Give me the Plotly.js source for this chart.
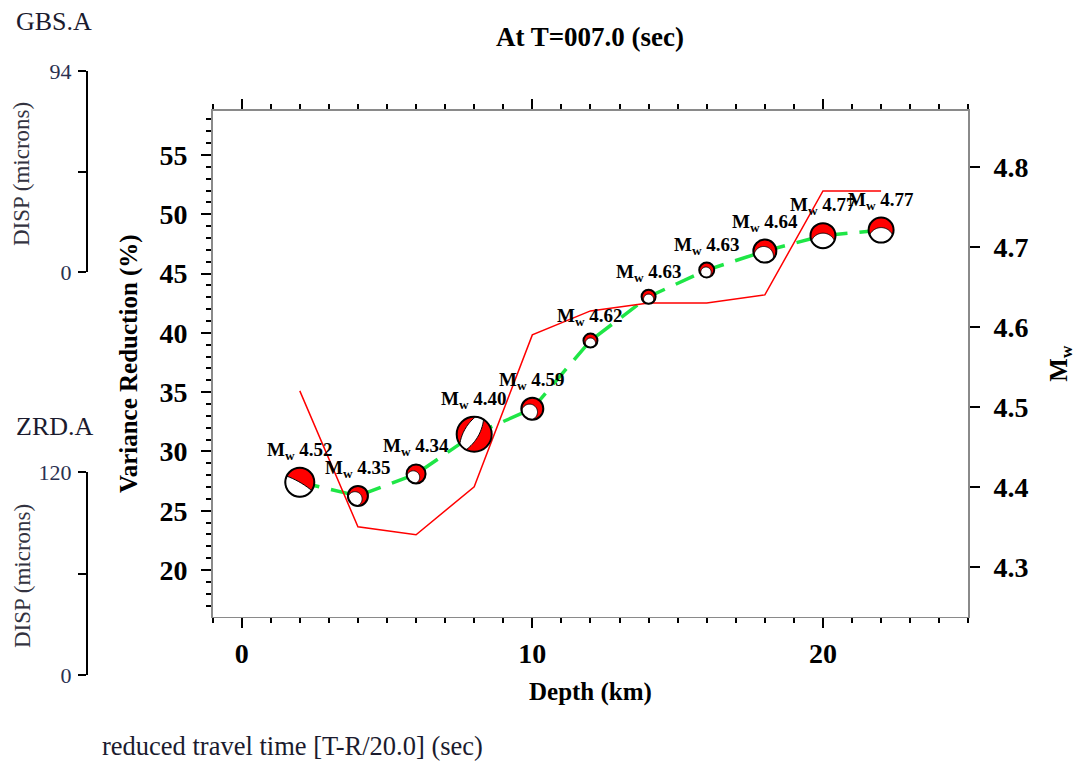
<!DOCTYPE html>
<html><head><meta charset="utf-8">
<script src="https://cdn.plot.ly/plotly-3.0.1.min.js"></script>
<style>html,body{margin:0;padding:0;background:#fff}</style>
</head><body>
<div id="chart" style="width:1076px;height:764px"></div>
<script>
// ---- data ----
const depths = [2, 4, 6, 8, 10, 12, 14, 16, 18, 20, 22];
const varianceReduction = [27.4, 26.25, 28.1, 31.45, 33.6, 39.35, 43.05, 45.3, 46.9, 48.2, 48.67];
const magnitudes = [4.52, 4.35, 4.34, 4.40, 4.59, 4.62, 4.63, 4.63, 4.64, 4.77, 4.77];
const chartTitle = 'At T=007.0 (sec)';
const xTitle = 'Depth (km)';
const yTitle = 'Variance Reduction (%)';
const y2Title = 'M<sub>w</sub>';
const stations = ['GBS.A', 'ZRD.A'];
const dispMax = [94, 120];
const dispTitle = 'DISP (microns)';
const bottomText = 'reduced travel time [T-R/20.0] (sec)';

// ---- styles (beachball look: diameter px, white region circles in units of radius) ----
const ballStyle = [
  {d: 29, white: [[-0.5 * 6, -0.866 * 6, 6]]},
  {d: 20, white: [[-0.3, -0.3, 0.72]]},
  {d: 19, white: [[-0.3, -0.35, 0.68]]},
  {d: 35, white: [[0.866 * (2.5 - 0.6), -0.5 * (2.5 - 0.6), 2.5], [-0.866 * (2.5 - 0.25), 0.5 * (2.5 - 0.25), 2.5]]},
  {d: 22, white: [[-0.25, -0.3, 0.72]]},
  {d: 14, white: [[0, -0.35, 0.72]]},
  {d: 14, white: [[0, -0.35, 0.72]]},
  {d: 15, white: [[-0.1, -0.3, 0.7]]},
  {d: 23, white: [[-0.1, -0.45, 0.85]]},
  {d: 25, white: [[0, -0.8, 1.0]]},
  {d: 25, white: [[0, -0.8, 1.0]]}
];
const SERIF = 'Liberation Serif, Times New Roman, serif';
const RED = '#ff0000';
const GREEN = '#1ee646';
const W = 1076, H = 764;

function circlePoly(cx, cy, r, n) {
  const p = [];
  for (let i = 0; i < n; i++) { const a = 2 * Math.PI * i / n; p.push([cx + r * Math.cos(a), cy + r * Math.sin(a)]); }
  return p;
}
function clip(subject, clipPoly) {
  let out = subject;
  for (let i = 0; i < clipPoly.length; i++) {
    const A = clipPoly[i], B = clipPoly[(i + 1) % clipPoly.length];
    const inp = out; out = [];
    if (!inp.length) break;
    const side = p => (B[0] - A[0]) * (p[1] - A[1]) - (B[1] - A[1]) * (p[0] - A[0]);
    for (let j = 0; j < inp.length; j++) {
      const E = inp[j], S = inp[(j + inp.length - 1) % inp.length];
      const dE = side(E), dS = side(S);
      const inter = () => { const t = dS / (dS - dE); return [S[0] + t * (E[0] - S[0]), S[1] + t * (E[1] - S[1])]; };
      if (dE >= 0) { if (dS < 0) out.push(inter()); out.push(E); }
      else if (dS >= 0) out.push(inter());
    }
  }
  return out;
}
function whiteRegion(circles, R) {
  let poly = circlePoly(0, 0, 1, 120);
  circles.forEach(c => { poly = clip(poly, circlePoly(c[0], c[1], c[2], 160)); });
  return poly.map(p => [p[0] * R, p[1] * R]);
}
function toPath(poly) {
  return poly.map((p, i) => (i ? 'L' : 'M') + p[0].toFixed(2) + ' ' + p[1].toFixed(2)).join(' ') + ' Z';
}

const shapes = [];
const annotations = [];
depths.forEach((d, i) => {
  const st = ballStyle[i], R = st.d / 2;
  const base = {xref: 'x', yref: 'y', xsizemode: 'pixel', ysizemode: 'pixel', xanchor: d, yanchor: varianceReduction[i], layer: 'above'};
  shapes.push(Object.assign({}, base, {type: 'circle', x0: -R, x1: R, y0: -R, y1: R, fillcolor: RED, line: {width: 0}}));
  const poly = whiteRegion(st.white, R);
  if (poly.length > 2) shapes.push(Object.assign({}, base, {type: 'path', path: toPath(poly), fillcolor: '#ffffff', line: {color: '#000', width: 1}}));
  shapes.push(Object.assign({}, base, {type: 'circle', x0: -R, x1: R, y0: -R, y1: R, fillcolor: 'rgba(0,0,0,0)', line: {color: '#000', width: 2}}));
  annotations.push({x: d, y: varianceReduction[i], xref: 'x', yref: 'y', showarrow: false, yanchor: 'bottom', yshift: R + 3,
    text: 'M<sub>w</sub> ' + magnitudes[i].toFixed(2), font: {family: SERIF, size: 19, weight: 700, color: '#000'}});
});

// side panels text
const stationY = [22, 426];
const dispCenterY = [174, 576];
stations.forEach((s, k) => {
  annotations.push({xref: 'paper', yref: 'paper', x: 14 / W, y: 1 - stationY[k] / H, xanchor: 'left', yanchor: 'middle', showarrow: false,
    text: s, font: {family: SERIF, size: 26, color: '#1b1b2e'}});
  annotations.push({xref: 'paper', yref: 'paper', x: 22 / W, y: 1 - dispCenterY[k] / H, xanchor: 'center', yanchor: 'middle', showarrow: false,
    text: dispTitle, textangle: -90, font: {family: SERIF, size: 23, color: '#333340'}});
});
annotations.push({xref: 'paper', yref: 'paper', x: 100 / W, y: 1 - 746 / H, xanchor: 'left', yanchor: 'middle', showarrow: false,
  text: bottomText, font: {family: SERIF, size: 26.5, color: '#1b1b2e'}});

const tickFont = {family: SERIF, size: 28, weight: 700, color: '#000'};
const titleFont = {family: SERIF, size: 25, weight: 700, color: '#000'};
const GRAY = '#8a8a8a';

const traces = [
  {x: depths, y: magnitudes, xaxis: 'x', yaxis: 'y2', mode: 'lines', line: {color: RED, width: 1.5}, hoverinfo: 'skip'},
  {x: depths, y: varianceReduction, xaxis: 'x', yaxis: 'y', mode: 'lines', line: {color: GREEN, width: 3.5, dash: '20px,12px'}, hoverinfo: 'skip'},
  {x: [], y: [], xaxis: 'x3', yaxis: 'y3', mode: 'lines'},
  {x: [], y: [], xaxis: 'x4', yaxis: 'y4', mode: 'lines'}
];

function dispAxis(k, dom) {
  return {anchor: k === 0 ? 'x3' : 'x4', domain: dom, range: [0, dispMax[k]], tickmode: 'array', tickvals: [0, dispMax[k]],
    ticks: 'outside', ticklen: 8, tickwidth: 2, tickcolor: '#000',
    minor: {tickmode: 'array', tickvals: [dispMax[k] / 2], ticks: 'outside', ticklen: 8, tickwidth: 2, tickcolor: '#000'},
    showline: true, linewidth: 2, linecolor: '#000', showgrid: false, zeroline: false, fixedrange: true,
    tickfont: {family: SERIF, size: 22, color: '#2a3050'}, ticklabelstandoff: 2};
}

const layout = {
  width: W, height: H, margin: {l: 0, r: 0, t: 0, b: 0}, showlegend: false,
  paper_bgcolor: '#fff', plot_bgcolor: '#fff',
  title: {text: chartTitle, x: 590 / W, xanchor: 'center', xref: 'paper', y: 1 - 37 / H, yanchor: 'middle', yref: 'paper', font: {family: SERIF, size: 27, weight: 700, color: '#000'}},
  xaxis: {domain: [212.6 / W, 968.3 / W], range: [-1, 25], anchor: 'y', tick0: 0, dtick: 10, ticks: 'outside', ticklen: 10, tickwidth: 2, tickcolor: '#000',
    minor: {ticks: 'outside', dtick: 1, tick0: 0, ticklen: 5, tickwidth: 2, tickcolor: '#000'},
    showline: true, linecolor: GRAY, linewidth: 1.5, mirror: 'ticks', showgrid: false, zeroline: false,
    tickfont: tickFont, ticklabelstandoff: 1, title: {text: xTitle, font: titleFont, standoff: 14}},
  yaxis: {domain: [1 - 616.7 / H, 1 - 110.7 / H], range: [16.06, 58.74], anchor: 'x', tick0: 0, dtick: 5, ticks: 'outside', ticklen: 10, tickwidth: 2, tickcolor: '#000',
    minor: {ticks: 'outside', dtick: 1, tick0: 0, ticklen: 5, tickwidth: 2, tickcolor: '#000'},
    showline: true, linecolor: GRAY, linewidth: 1.5, showgrid: false, zeroline: false,
    tickfont: tickFont, ticklabelstandoff: 8, title: {text: yTitle, font: titleFont, standoff: 14}},
  yaxis2: {overlaying: 'y', side: 'right', anchor: 'x', range: [4.2375, 4.8704], tick0: 4.3, dtick: 0.1, tickformat: '.1f',
    ticks: 'outside', ticklen: 10, tickwidth: 2, tickcolor: '#000', showline: true, linecolor: GRAY, linewidth: 1.5,
    showgrid: false, zeroline: false, tickfont: tickFont, ticklabelstandoff: 8, title: {text: y2Title, font: titleFont, standoff: 22}},
  xaxis3: {domain: [88 / W, 100 / W], anchor: 'y3', visible: false, range: [0, 1]},
  xaxis4: {domain: [88 / W, 100 / W], anchor: 'y4', visible: false, range: [0, 1]},
  yaxis3: dispAxis(0, [1 - 272 / H, 1 - 71 / H]),
  yaxis4: dispAxis(1, [1 - 675 / H, 1 - 472 / H]),
  shapes: shapes,
  annotations: annotations
};

Plotly.newPlot('chart', traces, layout, {displayModeBar: false, staticPlot: true});
</script>
</body></html>
